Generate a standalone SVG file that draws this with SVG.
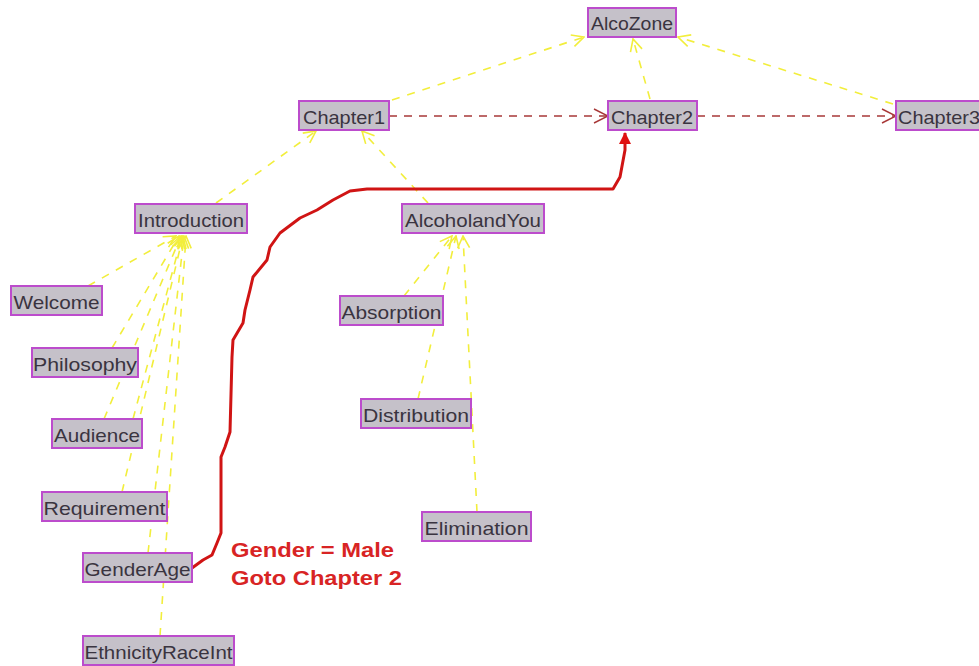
<svg xmlns="http://www.w3.org/2000/svg" width="979" height="666" viewBox="0 0 979 666">
  <defs>
    <marker id="openY" viewBox="0 0 14 14" refX="13" refY="7" markerWidth="14" markerHeight="14" markerUnits="userSpaceOnUse" orient="auto">
      <path d="M1,1 L13,7 L1,13" fill="none" stroke="#f2ee3c" stroke-width="1.6"/>
    </marker>
    <marker id="openR" viewBox="0 0 16 16" refX="15" refY="8" markerWidth="16" markerHeight="16" markerUnits="userSpaceOnUse" orient="auto">
      <path d="M1,1 L15,8 L1,15" fill="none" stroke="#a83838" stroke-width="1.4"/>
    </marker>
    <marker id="solidR" viewBox="0 0 12 12" refX="11" refY="6" markerWidth="12" markerHeight="12" markerUnits="userSpaceOnUse" orient="auto">
      <path d="M0,0 L12,6 L0,12 Z" fill="#e01010"/>
    </marker>
  </defs>
  <style>
    .box { fill: #c5c1c9; stroke: #bc4ccc; stroke-width: 2; }
    .lbl { font-family: "Liberation Sans", Arial, sans-serif; font-size: 19px; fill: #3a3440; }
    .dep { fill: none; stroke: #f2ee3c; stroke-width: 1.6; stroke-dasharray: 8 8; marker-end: url(#openY); }
    .seq { fill: none; stroke: #a83838; stroke-width: 1.4; stroke-dasharray: 8 7; marker-end: url(#openR); }
    .jump { fill: none; stroke: #d01414; stroke-width: 3; stroke-linejoin: round; marker-end: url(#solidR); }
    .note { font-family: "Liberation Sans", Arial, sans-serif; font-size: 21px; font-weight: bold; fill: #d82424; }
  </style>
  <rect width="979" height="666" fill="#ffffff"/>

  <!-- connectors -->
  <g id="connectors">
    <!-- chapters up to the root -->
    <path class="dep" d="M392,100 L584,37"/>
    <path class="dep" d="M650,99 L633,39"/>
    <path class="dep" d="M893,104 L678,37"/>
    <!-- sections up to chapter 1 -->
    <path class="dep" d="M216,203 L316,131"/>
    <path class="dep" d="M428,203 L362,131"/>
    <!-- pages up to Introduction -->
    <path class="dep" d="M88,286 L176,236"/>
    <path class="dep" d="M112,348 L179,236"/>
    <path class="dep" d="M104,419 L181,236"/>
    <path class="dep" d="M133,419 L182,236"/>
    <path class="dep" d="M122,492 L183,236"/>
    <path class="dep" d="M148,553 L184,236"/>
    <path class="dep" d="M160,636 L186,236"/>
    <!-- pages up to AlcoholandYou -->
    <path class="dep" d="M404,296 L452,236"/>
    <path class="dep" d="M418,399 L456,236"/>
    <path class="dep" d="M477,512 L463,236"/>
    <!-- chapter sequence -->
    <path class="seq" d="M389,116 L608,116"/>
    <path class="seq" d="M697,116 L896,116"/>
    <!-- conditional jump -->
    <path class="jump" d="M192,568 L203,560 L212,555 L217,543 L221,533 L221,457 L225,447 L230,432 L232,357 L233,340 L243,323 L245,310 L250,290 L253,277 L267,260 L270,247 L280,233 L300,218 L317,210 L333,200 L350,191 L367,189 L613,189 L620,177 L625,150 L625,133"/>
  </g>

  <!-- nodes -->
  <g id="AlcoZone"><rect class="box" x="588" y="8" width="88" height="29"/><text class="lbl" x="632" y="30" text-anchor="middle" textLength="82" lengthAdjust="spacingAndGlyphs">AlcoZone</text></g>
  <g id="Chapter1"><rect class="box" x="299" y="101" width="90" height="29"/><text class="lbl" x="344" y="124" text-anchor="middle" textLength="82" lengthAdjust="spacingAndGlyphs">Chapter1</text></g>
  <g id="Chapter2"><rect class="box" x="608" y="101" width="89" height="29"/><text class="lbl" x="652" y="124" text-anchor="middle" textLength="82" lengthAdjust="spacingAndGlyphs">Chapter2</text></g>
  <g id="Chapter3"><rect class="box" x="896" y="101" width="90" height="29"/><text class="lbl" x="898" y="124" textLength="82" lengthAdjust="spacingAndGlyphs">Chapter3</text></g>
  <g id="Introduction"><rect class="box" x="135" y="204" width="112" height="29"/><text class="lbl" x="191" y="227" text-anchor="middle" textLength="106" lengthAdjust="spacingAndGlyphs">Introduction</text></g>
  <g id="AlcoholandYou"><rect class="box" x="402" y="204" width="142" height="29"/><text class="lbl" x="473" y="227" text-anchor="middle" textLength="136" lengthAdjust="spacingAndGlyphs">AlcoholandYou</text></g>
  <g id="Welcome"><rect class="box" x="11" y="286" width="91" height="29"/><text class="lbl" x="56.5" y="309" text-anchor="middle" textLength="86" lengthAdjust="spacingAndGlyphs">Welcome</text></g>
  <g id="Philosophy"><rect class="box" x="32" y="348" width="106" height="29"/><text class="lbl" x="85" y="371" text-anchor="middle" textLength="104" lengthAdjust="spacingAndGlyphs">Philosophy</text></g>
  <g id="Audience"><rect class="box" x="52" y="419" width="90" height="29"/><text class="lbl" x="97" y="442" text-anchor="middle" textLength="86" lengthAdjust="spacingAndGlyphs">Audience</text></g>
  <g id="Requirement"><rect class="box" x="42" y="492" width="125" height="29"/><text class="lbl" x="104.5" y="515" text-anchor="middle" textLength="122" lengthAdjust="spacingAndGlyphs">Requirement</text></g>
  <g id="GenderAge"><rect class="box" x="83" y="553" width="109" height="29"/><text class="lbl" x="137.5" y="576" text-anchor="middle" textLength="106" lengthAdjust="spacingAndGlyphs">GenderAge</text></g>
  <g id="EthnicityRaceInt"><rect class="box" x="83" y="636" width="151" height="29"/><text class="lbl" x="158.5" y="659" text-anchor="middle" textLength="148" lengthAdjust="spacingAndGlyphs">EthnicityRaceInt</text></g>
  <g id="Absorption"><rect class="box" x="340" y="296" width="103" height="29"/><text class="lbl" x="391.5" y="319" text-anchor="middle" textLength="100" lengthAdjust="spacingAndGlyphs">Absorption</text></g>
  <g id="Distribution"><rect class="box" x="361" y="399" width="110" height="29"/><text class="lbl" x="416" y="422" text-anchor="middle" textLength="106" lengthAdjust="spacingAndGlyphs">Distribution</text></g>
  <g id="Elimination"><rect class="box" x="422" y="512" width="109" height="29"/><text class="lbl" x="476.5" y="535" text-anchor="middle" textLength="104" lengthAdjust="spacingAndGlyphs">Elimination</text></g>

  <!-- jump condition -->
  <g id="condition">
    <text class="note" x="231" y="557" textLength="163" lengthAdjust="spacingAndGlyphs">Gender = Male</text>
    <text class="note" x="231" y="585" textLength="171" lengthAdjust="spacingAndGlyphs">Goto Chapter 2</text>
  </g>
</svg>
